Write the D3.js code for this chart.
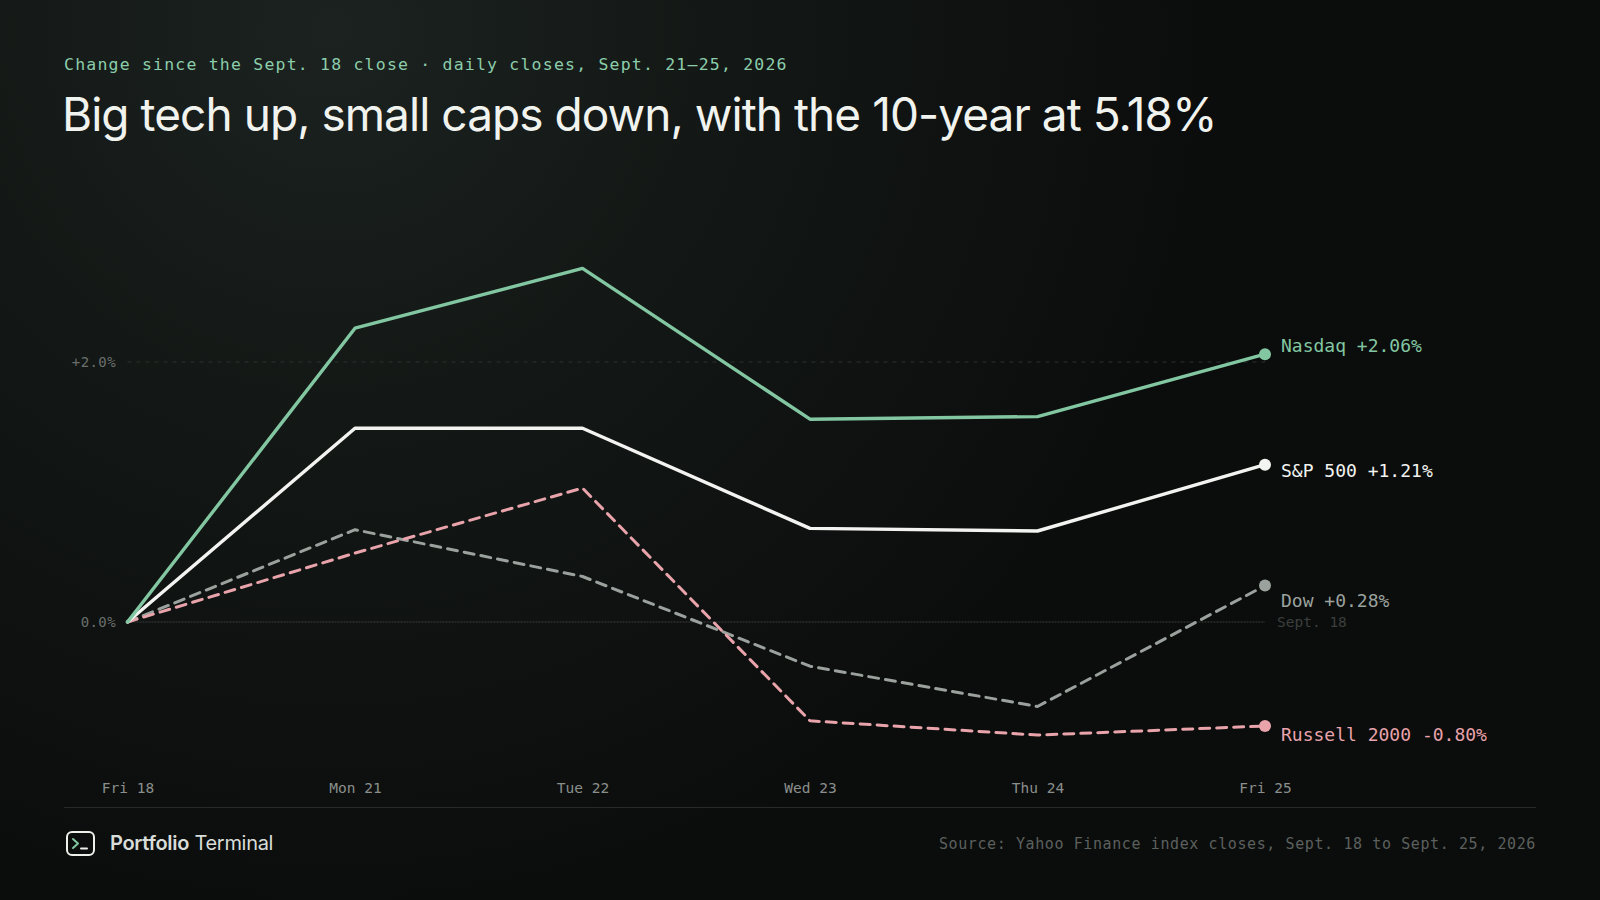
<!DOCTYPE html>
<html>
<head>
<meta charset="utf-8">
<script src="https://cdn.jsdelivr.net/npm/d3@7"></script>
<style>
  html, body { margin: 0; padding: 0; background: #0b0d0c; }
  svg { display: block; }
</style>
</head>
<body>
<div id="chart"></div>
<script>
var width = 1600;
var height = 900;
var mono = '"DejaVu Sans Mono", monospace';
var sans = 'Inter, "Noto Sans", sans-serif';

// data, % change since the Sept. 18 close
var days = ['Fri 18', 'Mon 21', 'Tue 22', 'Wed 23', 'Thu 24', 'Fri 25'];
var nasdaq = [0, 2.26, 2.72, 1.56, 1.58, 2.06];
var sp500 = [0, 1.49, 1.49, 0.72, 0.70, 1.21];
var dow = [0, 0.71, 0.35, -0.34, -0.65, 0.28];
var russell = [0, 0.53, 1.03, -0.76, -0.87, -0.80];
var seriesNames = ['Dow', 'Russell 2000', 'S&P 500', 'Nasdaq'];
var yTicks = [0, 2];

var seriesStyle = {
	'Nasdaq': { color: '#82c7a2', dash: null, width: 3.4, nudge: -9 },
	'S&P 500': { color: '#f3f4f1', dash: null, width: 3.4, nudge: 5 },
	'Dow': { color: '#9ba29e', dash: '10,7', width: 3, nudge: 14 },
	'Russell 2000': { color: '#e8a3ab', dash: '10,7', width: 3, nudge: 8 }
};
var seriesValues = { 'Nasdaq': nasdaq, 'S&P 500': sp500, 'Dow': dow, 'Russell 2000': russell };

var svg = d3.select('#chart').append('svg')
	.attr('width', width)
	.attr('height', height);

// background glow top-left
var defs = svg.append('defs');
var glow = defs.append('radialGradient')
	.attr('id', 'glow')
	.attr('gradientUnits', 'userSpaceOnUse')
	.attr('cx', 330).attr('cy', 30).attr('r', 900);
glow.append('stop').attr('offset', '0').attr('stop-color', '#1b221f');
glow.append('stop').attr('offset', '0.55').attr('stop-color', '#111513');
glow.append('stop').attr('offset', '1').attr('stop-color', '#0b0d0c');
svg.append('rect').attr('width', width).attr('height', height).attr('fill', '#0b0d0c');
svg.append('rect').attr('width', width).attr('height', height).attr('fill', 'url(#glow)');

var x = d3.scalePoint().domain(days).range([127.5, 1265]);
var y = d3.scaleLinear().domain([0, 2]).range([622, 362]);

// header
svg.append('text')
	.attr('x', 64).attr('y', 70)
	.attr('fill', '#8ccdab')
	.style('font-family', mono).style('font-size', '16.5px')
	.style('letter-spacing', '1.2px')
	.text('Change since the Sept. 18 close \u00b7 daily closes, Sept. 21\u201325, 2026');

svg.append('text')
	.attr('x', 62).attr('y', 131)
	.attr('fill', '#f1f3ef')
	.style('font-family', sans).style('font-size', '46px')
	.style('letter-spacing', '-0.95px')
	.text('Big tech up, small caps down, with the 10-year at 5.18%');

// grid + y ticks
var grid = svg.append('g');
grid.selectAll('line').data(yTicks).join('line')
	.attr('x1', x(days[0])).attr('x2', x(days[days.length - 1]))
	.attr('y1', function(d){ return y(d) }).attr('y2', function(d){ return y(d) })
	.attr('stroke', function(d){ return d == 0 ? '#3a3e3c' : '#2c302e' })
	.attr('stroke-width', 1)
	.attr('stroke-dasharray', function(d){ return d == 0 ? '2,1' : '4,5' });

grid.selectAll('text').data(yTicks).join('text')
	.attr('x', 116).attr('y', function(d){ return y(d) + 5 })
	.attr('text-anchor', 'end')
	.attr('fill', '#6a6f6c')
	.style('font-family', mono).style('font-size', '14px')
	.style('letter-spacing', '0.4px')
	.text(function(d){ return (d > 0 ? '+' : '') + d.toFixed(1) + '%' });

svg.append('text')
	.attr('x', 1277).attr('y', y(0) + 5)
	.attr('fill', '#3b3f3d')
	.style('font-family', mono).style('font-size', '14.5px')
	.text('Sept. 18');

// x axis labels
var xAxis = d3.axisBottom(x).tickSize(0).tickPadding(0);
var xg = svg.append('g').attr('transform', 'translate(0,782)').call(xAxis);
xg.select('.domain').remove();
xg.selectAll('text')
	.attr('fill', '#8a8f8c')
	.attr('dy', '0.75em')
	.style('font-family', mono).style('font-size', '14.5px');

// lines
var line = d3.line()
	.x(function(d, i){ return x(days[i]) })
	.y(function(d){ return y(d) });

var series = svg.append('g').selectAll('g').data(seriesNames).join('g');

series.append('path')
	.attr('d', function(n){ return line(seriesValues[n]) })
	.attr('fill', 'none')
	.attr('stroke', function(n){ return seriesStyle[n].color })
	.attr('stroke-width', function(n){ return seriesStyle[n].width })
	.attr('stroke-dasharray', function(n){ return seriesStyle[n].dash })
	.attr('stroke-linecap', 'round')
	.attr('stroke-linejoin', 'round');

series.append('circle')
	.attr('cx', x(days[days.length - 1]))
	.attr('cy', function(n){ var v = seriesValues[n]; return y(v[v.length - 1]) })
	.attr('r', 6)
	.attr('fill', function(n){ return seriesStyle[n].color });

series.append('text')
	.attr('x', 1281)
	.attr('y', function(n){ var v = seriesValues[n]; return y(v[v.length - 1]) + seriesStyle[n].nudge + 7 })
	.attr('fill', function(n){ return seriesStyle[n].color })
	.style('font-family', mono).style('font-size', '18px')
	.text(function(n){
		var v = seriesValues[n][seriesValues[n].length - 1];
		return n + ' ' + (v >= 0 ? '+' : '') + v.toFixed(2) + '%';
	});

// footer
svg.append('line')
	.attr('x1', 64).attr('x2', 1536).attr('y1', 807.5).attr('y2', 807.5)
	.attr('stroke', '#262a28').attr('stroke-width', 1);

var logo = svg.append('g').attr('transform', 'translate(66,831)');
logo.append('rect')
	.attr('x', 1).attr('y', 1).attr('width', 27).attr('height', 23).attr('rx', 5)
	.attr('fill', 'none').attr('stroke', '#eef0ec').attr('stroke-width', 2);
logo.append('path')
	.attr('d', 'M7,8 L12,12.5 L7,17')
	.attr('fill', 'none').attr('stroke', '#82c7a2').attr('stroke-width', 2)
	.attr('stroke-linecap', 'round').attr('stroke-linejoin', 'round');
logo.append('line')
	.attr('x1', 15).attr('x2', 21).attr('y1', 17.5).attr('y2', 17.5)
	.attr('stroke', '#eef0ec').attr('stroke-width', 2).attr('stroke-linecap', 'round');

var brand = svg.append('text')
	.attr('x', 110).attr('y', 850)
	.attr('fill', '#d9ddda')
	.style('font-family', sans).style('font-size', '20px')
	.style('letter-spacing', '-0.3px');
brand.append('tspan').style('font-weight', 600).text('Portfolio');
brand.append('tspan').style('font-weight', 400).text(' Terminal');

svg.append('text')
	.attr('x', 1536).attr('y', 849)
	.attr('text-anchor', 'end')
	.attr('fill', '#5c605e')
	.style('font-family', mono).style('font-size', '15px')
	.style('letter-spacing', '0.6px')
	.text('Source: Yahoo Finance index closes, Sept. 18 to Sept. 25, 2026');
</script>
</body>
</html>
